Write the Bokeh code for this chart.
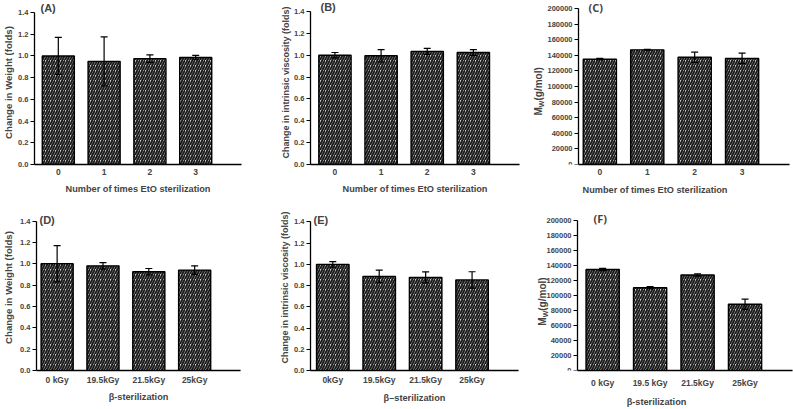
import math
from bokeh.plotting import figure
from bokeh.models import (ColumnDataSource, Range1d, FixedTicker, PrintfTickFormatter,
                          Whisker, TeeHead, Label, LinearAxis)
from bokeh.layouts import column, row
from bokeh.embed import file_html
from bokeh.resources import INLINE

# ---------------- data ----------------
eto_labels = ["0", "1", "2", "3"]
beta_labels_d = ["0 kGy", "19.5kGy", "21.5kGy", "25kGy"]
beta_labels_e = ["0kGy", "19.5kGy", "21.5kGy", "25kGy"]
beta_labels_f = ["0 kGy", "19.5 kGy", "21.5kGy", "25kGy"]

weight_eto = [1.00, 0.95, 0.975, 0.985]
weight_eto_err = [0.17, 0.225, 0.035, 0.02]
visc_eto = [1.00, 0.995, 1.035, 1.025]
visc_eto_err = [0.025, 0.057, 0.027, 0.026]
mw_eto = [135000, 147000, 137500, 136000]
mw_eto_err = [1000, 500, 6500, 6800]

weight_beta = [1.00, 0.98, 0.925, 0.94]
weight_beta_err = [0.17, 0.03, 0.03, 0.04]
visc_beta = [1.00, 0.887, 0.878, 0.854]
visc_beta_err = [0.027, 0.06, 0.052, 0.077]
mw_beta = [135000, 110500, 127500, 88500]
mw_beta_err = [1500, 1500, 1500, 6800]

x_eto_title = "Number of times EtO sterilization"
x_beta_title = "β-sterilization"
x_beta_title_e = "β–sterilization"
y_weight_title = "Change in Weight (folds)"
y_visc_title = "Change in intrinsic viscosity (folds)"

FONT = "Liberation Sans"
X_END = 4.0


def panel(fig_w, fig_h, ax_left, br, ax_top, bb, x_start, y_max, y_step, fmt,
          labels, vals, errs, ylabel, ylab_size, ylab_standoff, xlabel,
          xtick_standoff, xlab_standoff, tag, tag_dx, tag_dy,
          tag_font=FONT, mw=None):
    # pixel geometry -> ranges (frame reaches top of figure so the tag fits inside)
    axis_h = fig_h - bb - ax_top
    ppu_y = axis_h / y_max
    y_end = y_max + ax_top / ppu_y
    fixed = mw is not None
    if fixed:
        ppu_x = (fig_w - br - ax_left) / (X_END - x_start)
        x_left = x_start - ax_left / ppu_x
        bl = 0
    else:
        x_left = x_start
        bl = ax_left
    p = figure(width=fig_w, height=fig_h, output_backend="svg", toolbar_location=None,
               min_border_left=bl, min_border_right=br, min_border_top=0,
               min_border_bottom=bb,
               x_range=Range1d(x_left, X_END), y_range=Range1d(0, y_end))
    p.outline_line_color = None
    p.xgrid.visible = False
    p.ygrid.visible = False
    xs = list(range(len(labels)))
    src = ColumnDataSource(dict(x=xs, top=vals,
                                upper=[v + e for v, e in zip(vals, errs)],
                                lower=[v - e for v, e in zip(vals, errs)]))
    p.vbar(x="x", top="top", width=0.7, source=src, fill_color="#cfcfcf",
           hatch_pattern="/", hatch_color="#1a1a1a", hatch_scale=5, hatch_weight=1.9,
           line_color="black", line_width=1.4)
    w = Whisker(base="x", upper="upper", lower="lower", source=src,
                line_color="black", line_width=1.2, level="overlay",
                upper_head=TeeHead(size=7, line_width=1.2, line_color="black"),
                lower_head=TeeHead(size=7, line_width=1.2, line_color="black"))
    p.add_layout(w)

    # y axis
    ya = p.yaxis[0]
    n = int(round(y_max / y_step))
    ya.ticker = FixedTicker(ticks=[i * y_step for i in range(n + 1)])
    ya.formatter = PrintfTickFormatter(format=fmt)
    ya.bounds = (0, y_max)
    if fixed:
        ya.fixed_location = x_start
    ya.major_tick_out = 4
    ya.major_tick_in = 0
    ya.minor_tick_out = 0
    ya.minor_tick_in = 0
    ya.axis_line_width = 1.3
    ya.major_tick_line_width = 1.2
    ya.major_label_standoff = 2
    ya.major_label_text_font = FONT
    ya.major_label_text_font_style = "bold"
    ya.major_label_text_font_size = "7.5px"
    if ylabel:
        ya.axis_label = ylabel
        ya.axis_label_text_font = FONT
        ya.axis_label_text_font_style = "bold"
        ya.axis_label_text_font_size = ylab_size
        ya.axis_label_standoff = ylab_standoff

    # x axis
    xa = p.xaxis[0]
    xa.ticker = FixedTicker(ticks=xs)
    xa.major_label_overrides = {i: lab for i, lab in zip(xs, labels)}
    xa.bounds = (x_start, X_END)
    xa.major_tick_out = 0
    xa.major_tick_in = 0
    xa.minor_tick_out = 0
    xa.minor_tick_in = 0
    xa.axis_line_width = 1.3
    xa.major_label_standoff = xtick_standoff
    xa.major_label_text_font = FONT
    xa.major_label_text_font_style = "bold"
    xa.major_label_text_font_size = "8.5px"
    xa.axis_label = xlabel
    xa.axis_label_text_font = FONT
    xa.axis_label_text_font_style = "bold"
    xa.axis_label_text_font_size = "9.2px"
    xa.axis_label_standoff = xlab_standoff

    # small end tick at the right end of the x axis (no label)
    end_ax = LinearAxis(fixed_location=0, ticker=FixedTicker(ticks=[X_END]),
                        axis_line_color=None, major_label_overrides={X_END: ""},
                        major_tick_out=3, major_tick_in=0, minor_tick_out=0,
                        major_tick_line_width=1.2)
    p.add_layout(end_ax, "below")

    # panel tag
    p.add_layout(Label(x=x_start, y=y_max, x_offset=tag_dx, y_offset=tag_dy, text=tag,
                       text_font=tag_font, text_font_style="bold", text_font_size="11px",
                       text_align="left", text_baseline="middle"))

    # M_W label with subscript, placed left of the (fixed) y axis
    if fixed:
        mw_x, mw_y0 = mw
        fs_big, fs_small = 10.0, 7.0
        w_m = 0.833 * fs_big
        w_w = 0.944 * fs_small
        common = dict(x=x_left, y=y_max / 2, angle=math.pi / 2, text_font=FONT,
                      text_font_style="bold", text_align="left", text_baseline="middle")
        p.add_layout(Label(x_offset=mw_x, y_offset=mw_y0, text="M",
                           text_font_size=f"{fs_big}px", **common))
        p.add_layout(Label(x_offset=mw_x + 2.5, y_offset=mw_y0 + w_m, text="W",
                           text_font_size=f"{fs_small}px", **common))
        p.add_layout(Label(x_offset=mw_x, y_offset=mw_y0 + w_m + w_w, text="(g/mol)",
                           text_font_size=f"{fs_big}px", **common))
    return p


pa = panel(260, 204, 33, 19, 12, 40, -0.52, 1.4, 0.2, "%.1f", eto_labels, weight_eto,
           weight_eto_err, y_weight_title, "9.6px", 1, x_eto_title, 4, 6,
           "(A)", 6, 5)
pb = panel(260, 204, 50, 1, 11, 40, -0.53, 1.4, 0.2, "%.1f", eto_labels, visc_eto,
           visc_eto_err, y_visc_title, "9px", 0, x_eto_title, 4, 6,
           "(B)", 10, 5)
pc = panel(273, 204, 58, 4, 8, 40, -0.45, 200000, 20000, "%d", eto_labels, mw_eto,
           mw_eto_err, None, None, 0, x_eto_title, 4, 7,
           "(C)", 10, 1, tag_font="Open Sans", mw=(18, -29))
pd = panel(260, 205, 32, 20, 17, 34, -0.45, 1.4, 0.2, "%.1f", beta_labels_d, weight_beta,
           weight_beta_err, y_weight_title, "9.6px", 3, x_beta_title, 4, 4,
           "(D)", 3, 1)
pe = panel(260, 205, 50, 2, 18, 34, -0.48, 1.4, 0.2, "%.1f", beta_labels_e, visc_beta,
           visc_beta_err, y_visc_title, "9px", 1, x_beta_title_e, 4, 5,
           "(E)", 3, 2)
pf = panel(273, 205, 57, 1, 17, 32, -0.53, 200000, 20000, "%d", beta_labels_f, mw_beta,
           mw_beta_err, None, None, 0, x_beta_title, 7, 6,
           "(F)", 16, 2, tag_font="Open Sans", mw=(22, -30))

layout = column(row(pa, pb, pc), row(pd, pe, pf))

with open("out.html", "w") as f:
    f.write(file_html(layout, INLINE))
